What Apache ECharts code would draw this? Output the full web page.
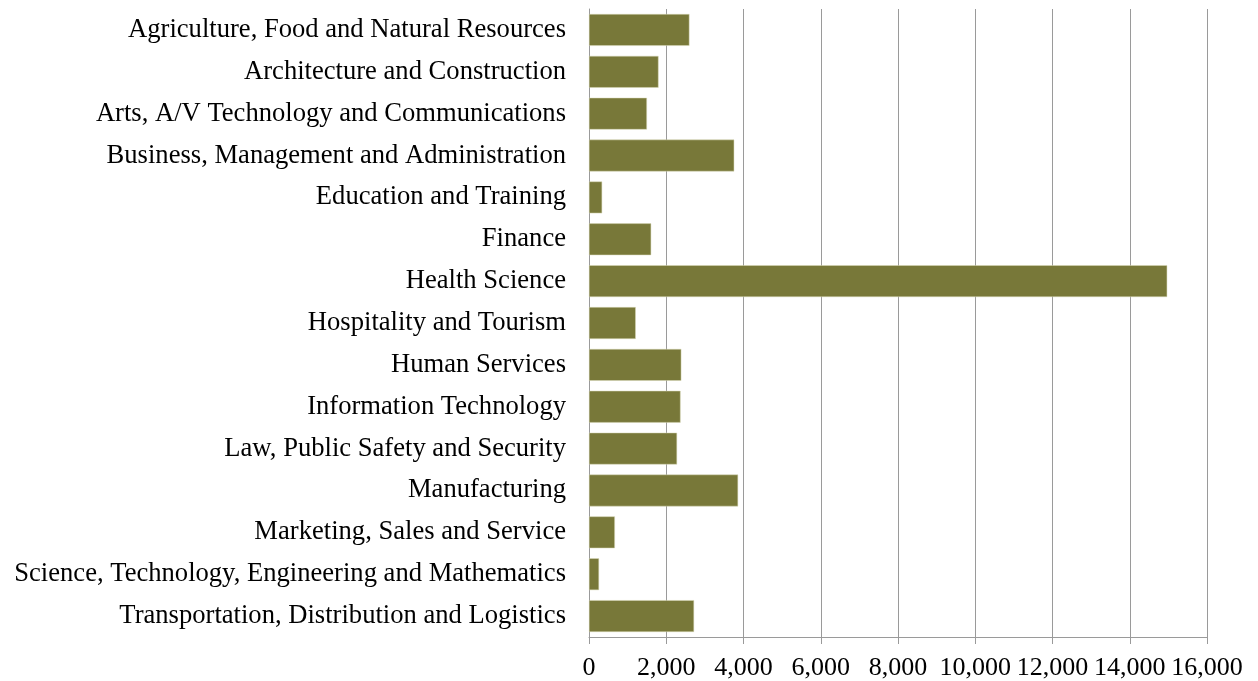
<!DOCTYPE html>
<html>
<head>
<meta charset="utf-8">
<title>Career clusters</title>
<script src="https://cdn.jsdelivr.net/npm/echarts@6.0.0/dist/echarts.min.js"></script>
<style>
  html, body { margin: 0; padding: 0; background: #fff; }
  #chart { width: 1258px; height: 681px; }
</style>
</head>
<body>
<div id="chart"></div>
<script>
// career cluster names, top to bottom
const clusters = [
  'Agriculture, Food and Natural Resources',
  'Architecture and Construction',
  'Arts, A/V Technology and Communications',
  'Business, Management and Administration',
  'Education and Training',
  'Finance',
  'Health Science',
  'Hospitality and Tourism',
  'Human Services',
  'Information Technology',
  'Law, Public Safety and Security',
  'Manufacturing',
  'Marketing, Sales and Service',
  'Science, Technology, Engineering and Mathematics',
  'Transportation, Distribution and Logistics'
];
const counts = [2600, 1800, 1500, 3760, 340, 1610, 14970, 1210, 2390, 2370, 2280, 3860, 670, 260, 2720];

const xMin = 0;
const xMax = 16000;
const xStep = 2000;

const chart = echarts.init(document.getElementById('chart'));
const font = 'Liberation Serif, Times New Roman, serif';

chart.setOption({
  animation: false,
  grid: { left: 589, right: 51, top: 9, bottom: 44, containLabel: false },
  xAxis: {
    type: 'value',
    min: xMin,
    max: xMax,
    interval: xStep,
    axisLine: { show: true, lineStyle: { color: '#9a9a9a', width: 1 } },
    axisTick: { show: true, length: 7, lineStyle: { color: '#9a9a9a' } },
    splitLine: { show: true, lineStyle: { color: '#9a9a9a', width: 1 } },
    axisLabel: {
      margin: 18,
      fontFamily: font,
      fontSize: 26,
      color: '#000',
      formatter: v => v.toLocaleString('en-US')
    }
  },
  yAxis: {
    type: 'category',
    inverse: true,
    data: clusters,
    axisLine: { show: true, lineStyle: { color: '#9a9a9a', width: 1 } },
    axisTick: { show: false },
    axisLabel: {
      margin: 23,
      fontFamily: font,
      fontSize: 26.6,
      color: '#000'
    }
  },
  series: [{
    type: 'bar',
    data: counts,
    barCategoryGap: '24%',
    itemStyle: { color: '#787839', borderColor: '#d9d9b8', borderWidth: 0.5 }
  }]
});
</script>
</body>
</html>
